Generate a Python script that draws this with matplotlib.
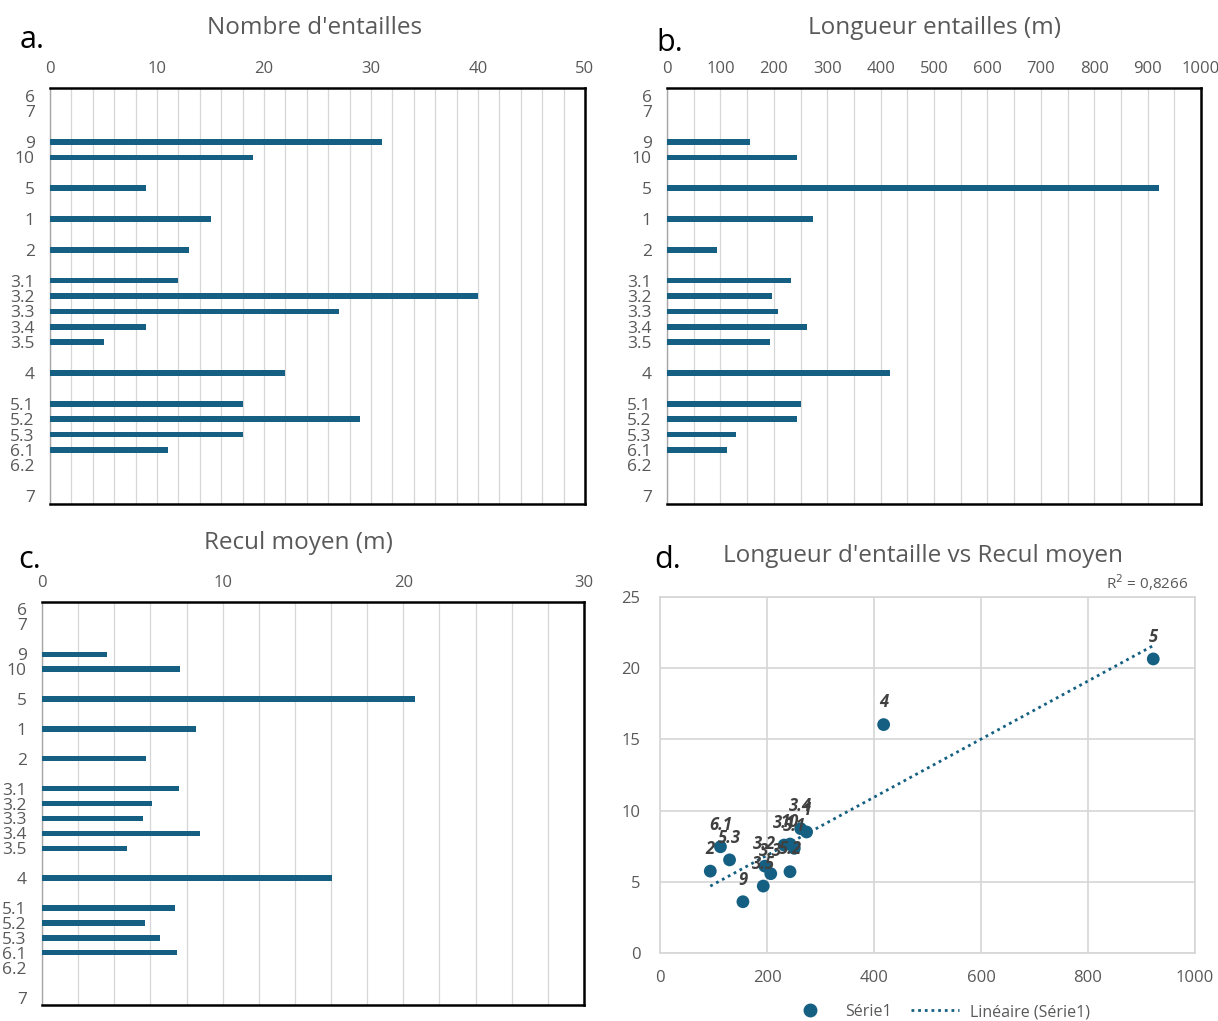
import numpy as np
import matplotlib
matplotlib.use("Agg")
import matplotlib.pyplot as plt
from matplotlib.ticker import MultipleLocator
from matplotlib.lines import Line2D

plt.rcParams['font.family'] = ['Open Sans', 'DejaVu Sans']

# --- data ---
categories = ["6", "7", "", "9", "10", "", "5", "", "1", "", "2", "",
              "3.1", "3.2", "3.3", "3.4", "3.5", "", "4", "",
              "5.1", "5.2", "5.3", "6.1", "6.2", "", "7"]
nb_entailles = [None, None, None, 31, 19, None, 9, None, 15, None, 13, None,
                12, 40, 27, 9, 5, None, 22, None,
                18, 29, 18, 11, None, None, None]
longueur = [None, None, None, 155, 243, None, 922, None, 274, None, 94, None,
            232, 196, 207, 263, 193, None, 418, None,
            251, 243, 130, 113, None, None, None]
recul = [None, None, None, 3.6, 7.65, None, 20.65, None, 8.5, None, 5.75, None,
         7.58, 6.1, 5.57, 8.73, 4.7, None, 16.04, None,
         7.35, 5.71, 6.54, 7.46, None, None, None]
r2_text = "R$^2$ = 0,8266"

BLUE = "#156082"
GRAY = "#595959"
GRID = "#d6d6d6"

W, H = 1218, 1021
fig = plt.figure(figsize=(W / 100, H / 100), dpi=100)


def box(left, top, right, bottom):
    return [left / W, 1 - bottom / H, (right - left) / W, (bottom - top) / H]


def bar_panel(rect, values, xmax, major, minor, title, title_xy, letter, letter_xy):
    ax = fig.add_axes(rect)
    pos = np.arange(len(categories))
    ax.barh(pos, np.array(values, dtype=float), height=0.36, color=BLUE, zorder=3)
    ax.set_ylim(len(categories) - 0.5, -0.5)
    ax.set_xlim(0, xmax)
    ax.set_yticks(pos)
    ax.set_yticklabels(categories)
    ax.xaxis.tick_top()
    ax.xaxis.set_major_locator(MultipleLocator(major))
    ax.xaxis.set_minor_locator(MultipleLocator(minor))
    ax.tick_params(axis='both', which='both', length=0, labelcolor=GRAY)
    ax.tick_params(axis='x', pad=8, labelsize=12)
    ax.tick_params(axis='y', pad=11, labelsize=12.5)
    ax.grid(axis='x', which='both', color=GRID, lw=0.9, zorder=0)
    for s in ['top', 'right', 'bottom']:
        ax.spines[s].set_color('black')
        ax.spines[s].set_linewidth(1.8)
    ax.spines['left'].set_color('#a6a6a6')
    ax.spines['left'].set_linewidth(1.0)
    fig.text(title_xy[0] / W, 1 - title_xy[1] / H, title, ha='center', va='center',
             fontsize=17.5, color=GRAY)
    fig.text(letter_xy[0] / W, 1 - letter_xy[1] / H, letter, ha='left', va='center',
             fontsize=22, color='black')
    return ax


bar_panel(box(50, 88, 585, 504), nb_entailles, 50, 10, 2,
          "Nombre d'entailles", (315, 28), "a.", (20, 40))
bar_panel(box(667, 88, 1201, 504), longueur, 1000, 100, 50,
          "Longueur entailles (m)", (935, 28), "b.", (656, 43))
bar_panel(box(42, 602, 584, 1005), recul, 30, 10, 2,
          "Recul moyen (m)", (298, 543), "c.", (18, 560))

# --- d. scatter ---
x = np.array(longueur, dtype=float)
y = np.array(recul, dtype=float)
ok = ~np.isnan(x) & ~np.isnan(y)
xs, ys = x[ok], y[ok]
labels = [c for c, k in zip(categories, ok) if k]

ax = fig.add_axes(box(660, 597, 1195, 953))
ax.scatter(xs, ys, s=85, color=BLUE, zorder=3, edgecolors='none')
slope, icpt = np.polyfit(xs, ys, 1)
xl = np.array([xs.min(), xs.max()])
ax.plot(xl, slope * xl + icpt, color=BLUE, lw=2, linestyle=(0, (1, 1.4)), zorder=2)
for lx, ly, lab in zip(xs, ys, labels):
    ax.annotate(lab, (lx, ly), xytext=(0, 16), textcoords='offset points',
                ha='center', va='center', fontsize=12, fontweight='bold',
                fontstyle='italic', color='#404040', zorder=4)
ax.set_xlim(0, 1000)
ax.set_ylim(0, 25)
ax.xaxis.set_major_locator(MultipleLocator(200))
ax.yaxis.set_major_locator(MultipleLocator(5))
ax.grid(True, color=GRID, lw=1.2, zorder=0)
ax.tick_params(length=0, labelsize=12, labelcolor=GRAY)
ax.tick_params(axis='x', pad=12)
ax.tick_params(axis='y', pad=14)
for s in ax.spines.values():
    s.set_color(GRID)
    s.set_linewidth(1.2)
ax.text(0.987, 1.01, r2_text, transform=ax.transAxes, ha='right', va='bottom',
        fontsize=11, color=GRAY)
fig.text(923 / W, 1 - 556 / H, "Longueur d'entaille vs Recul moyen", ha='center',
         va='center', fontsize=17.5, color=GRAY)
fig.text(654 / W, 1 - 560 / H, "d.", ha='left', va='center', fontsize=22, color='black')

handles = [Line2D([], [], marker='o', ls='none', color=BLUE, markersize=9),
           Line2D([], [], color=BLUE, lw=2, linestyle=(0, (1, 1.4)))]
fig.legend(handles, ["Série1", "Linéaire (Série1)"], loc='center',
           bbox_to_anchor=(938 / W, 1 - 1012 / H), ncol=2, frameon=False,
           fontsize=11.5, labelcolor=GRAY, handlelength=3, columnspacing=1.2,
           handletextpad=0.7)

fig.savefig("out.png", dpi=100, facecolor='white')
